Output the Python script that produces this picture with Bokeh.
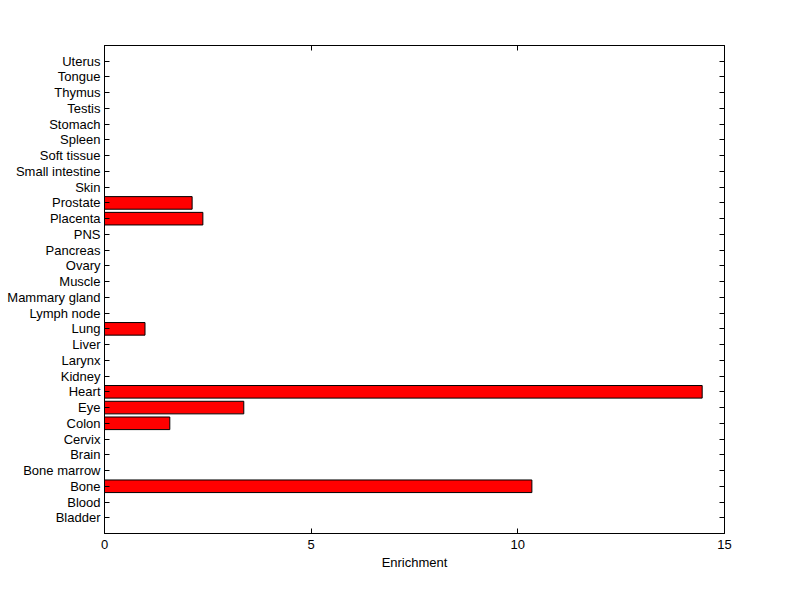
from bokeh.plotting import figure
from bokeh.models import LinearAxis, FixedTicker, Range1d, ColumnDataSource
from bokeh.embed import file_html
from bokeh.resources import INLINE

tissues = ["Bladder", "Blood", "Bone", "Bone marrow", "Brain", "Cervix", "Colon", "Eye",
           "Heart", "Kidney", "Larynx", "Liver", "Lung", "Lymph node", "Mammary gland",
           "Muscle", "Ovary", "Pancreas", "PNS", "Placenta", "Prostate", "Skin",
           "Small intestine", "Soft tissue", "Spleen", "Stomach", "Testis", "Thymus",
           "Tongue", "Uterus"]
enrichment = [0, 0, 10.34, 0, 0, 0, 1.58, 3.37,
              14.46, 0, 0, 0, 0.98, 0, 0,
              0, 0, 0, 0, 2.38, 2.12, 0,
              0, 0, 0, 0, 0, 0,
              0, 0]
x_ticks = [0, 5, 10, 15]

pos = list(range(1, len(tissues) + 1))
src = ColumnDataSource(dict(y=[p for p, v in zip(pos, enrichment) if v > 0],
                            right=[v for v in enrichment if v > 0]))

FONT = "Liberation Sans"
FS = "13px"

p = figure(width=784, height=583, output_backend="svg", toolbar_location=None,
           x_range=Range1d(0, 15), y_range=Range1d(0, len(tissues) + 1),
           min_border_left=104, min_border_right=60, min_border_top=45, min_border_bottom=50,
           x_axis_location=None, y_axis_location=None)
p.frame_width = 620
p.frame_height = 488

p.hbar(y="y", right="right", left=0, height=0.8, source=src,
       fill_color="#FF0000", line_color="black", line_width=1)

p.xgrid.visible = False
p.ygrid.visible = False
p.outline_line_color = "black"
p.outline_line_width = 1

def style(ax, labels=True):
    ax.axis_line_color = "black"
    ax.major_tick_line_color = "black"
    ax.major_tick_in = 5
    ax.major_tick_out = 0
    ax.minor_tick_line_color = None
    ax.major_label_text_font = FONT
    ax.major_label_text_font_size = FS
    ax.major_label_text_color = "black"
    if not labels:
        ax.major_label_text_alpha = 0
        ax.major_label_text_font_size = "1px"

xb = LinearAxis(ticker=FixedTicker(ticks=x_ticks), axis_label="Enrichment")
style(xb)
xb.major_label_standoff = 6
xb.axis_label_text_font = FONT
xb.axis_label_text_font_size = FS
xb.axis_label_text_font_style = "normal"
xb.axis_label_text_color = "black"
xb.axis_label_standoff = 3
p.add_layout(xb, "below")

xt = LinearAxis(ticker=FixedTicker(ticks=x_ticks))
style(xt, labels=False)
p.add_layout(xt, "above")

yl = LinearAxis(ticker=FixedTicker(ticks=pos))
yl.major_label_overrides = {pp: t for pp, t in zip(pos, tissues)}
style(yl)
yl.major_label_standoff = 4
p.add_layout(yl, "left")

yr = LinearAxis(ticker=FixedTicker(ticks=pos))
style(yr, labels=False)
p.add_layout(yr, "right")

open("out.html", "w").write(file_html(p, INLINE))
